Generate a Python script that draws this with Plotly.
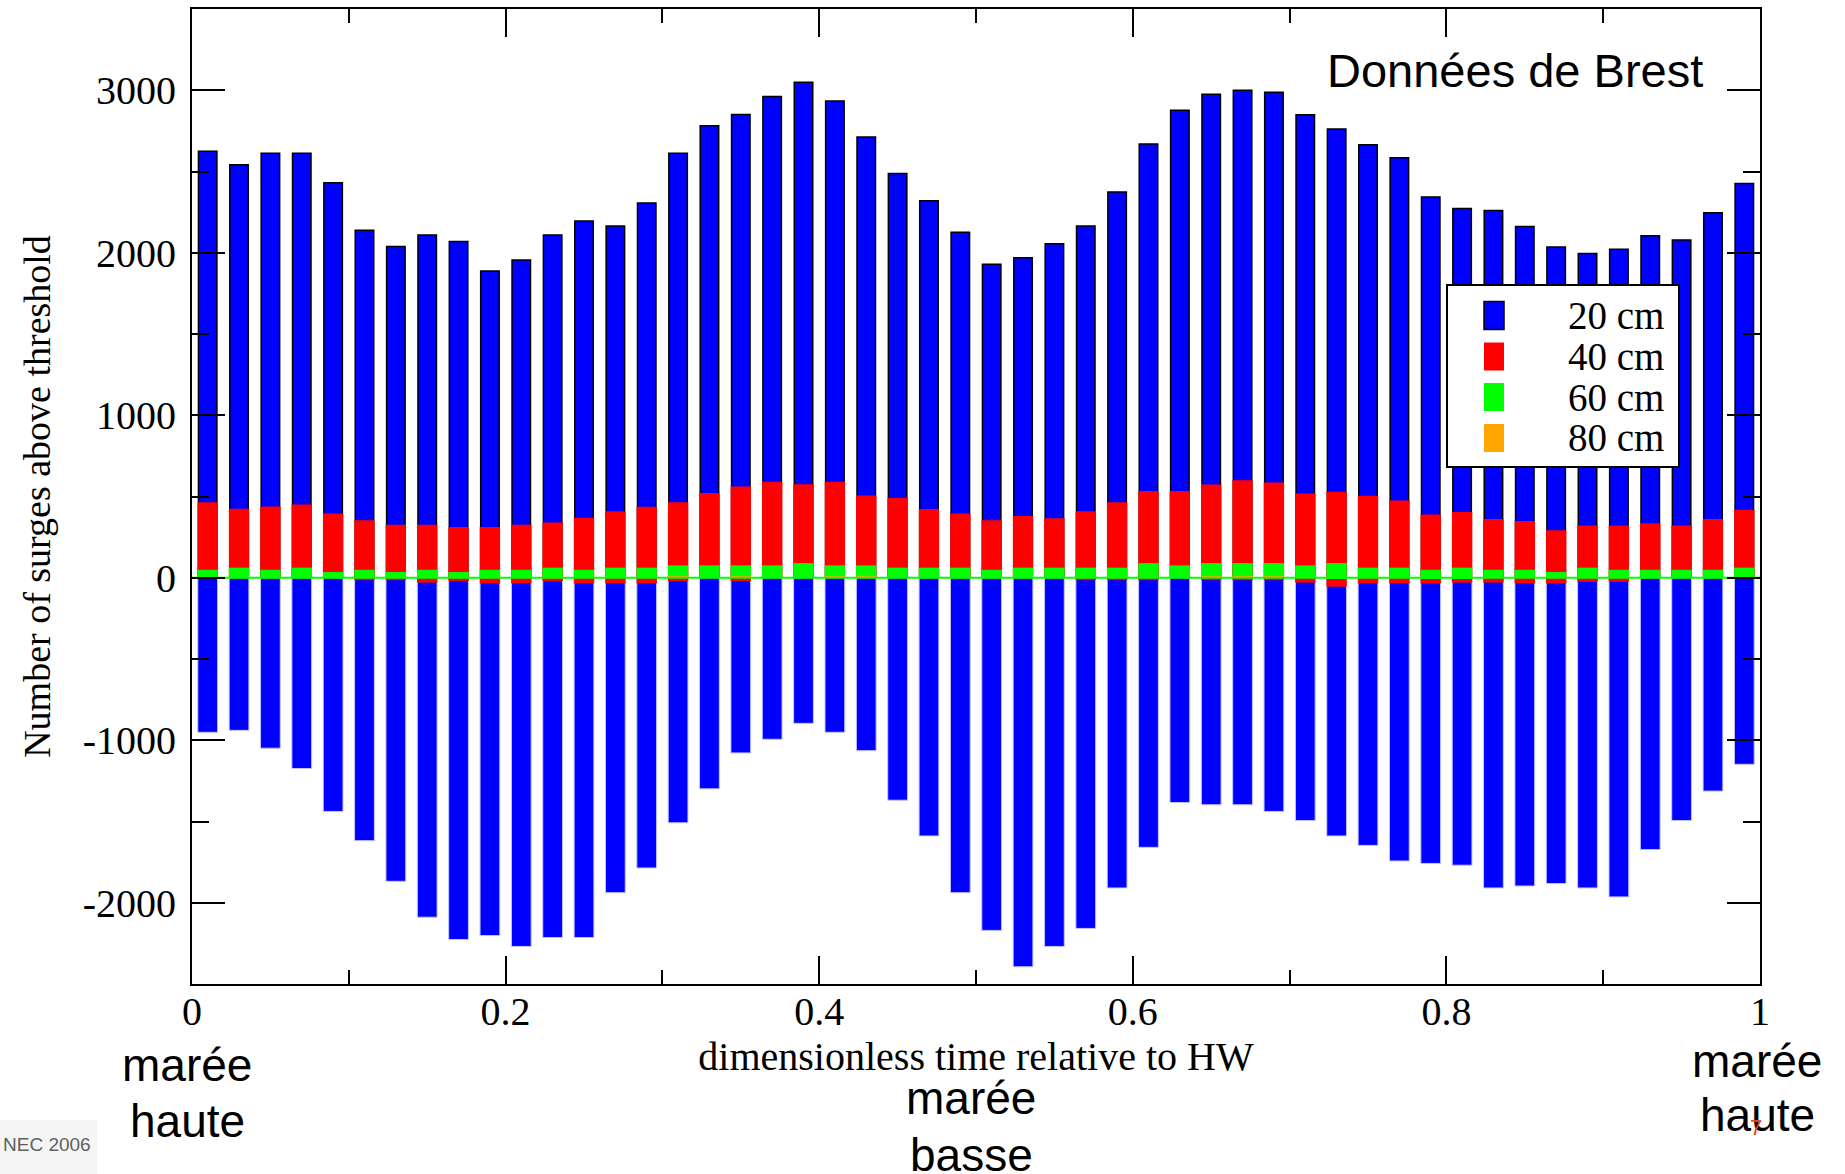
import plotly.graph_objects as go

# Dimensionless time relative to high water (bar centres)
time_hw = [0.01, 0.03, 0.05, 0.07, 0.09, 0.11, 0.13, 0.15, 0.17, 0.19,
           0.21, 0.23, 0.25, 0.27, 0.29, 0.31, 0.33, 0.35, 0.37, 0.39,
           0.41, 0.43, 0.45, 0.47, 0.49, 0.51, 0.53, 0.55, 0.57, 0.59,
           0.61, 0.63, 0.65, 0.67, 0.69, 0.71, 0.73, 0.75, 0.77, 0.79,
           0.81, 0.83, 0.85, 0.87, 0.89, 0.91, 0.93, 0.95, 0.97, 0.99]

# Positive surges above each threshold
surge_20_pos = [2625, 2542, 2613, 2613, 2431, 2138, 2039, 2110, 2069, 1888,
                1956, 2110, 2195, 2164, 2306, 2613, 2781, 2851, 2962, 3050,
                2934, 2712, 2488, 2320, 2126, 1930, 1970, 2055, 2164, 2374,
                2670, 2877, 2975, 3000, 2988, 2849, 2761, 2664, 2584, 2343,
                2272, 2260, 2161, 2035, 1995, 2021, 2104, 2078, 2246, 2426]
surge_40_pos = [465, 425, 439, 451, 395, 354, 326, 326, 312, 312,
                326, 340, 369, 409, 437, 465, 522, 562, 591, 576,
                591, 506, 491, 423, 395, 354, 380, 366, 409, 465,
                534, 534, 574, 600, 586, 518, 530, 504, 475, 390,
                404, 362, 350, 293, 322, 322, 336, 322, 362, 418]
surge_60_pos = [49, 62, 49, 62, 35, 49, 35, 49, 35, 49,
                49, 62, 49, 62, 62, 76, 76, 76, 76, 90,
                76, 76, 62, 62, 62, 49, 62, 62, 62, 62,
                90, 76, 90, 90, 90, 76, 90, 62, 62, 49,
                62, 49, 49, 35, 62, 49, 49, 49, 49, 62]
surge_80_pos = [0, 0, 0, 0, 0, 0, 0, 0, 0, 0,
                0, 0, 0, 0, 0, 12, 0, 12, 0, 0,
                12, 12, 0, 0, 0, 0, 0, 0, 0, 0,
                0, 0, 12, 12, 12, 0, 0, 0, 0, 0,
                0, 0, 0, 0, 0, 0, 0, 0, 0, 0]

# Negative surges (plotted below zero)
surge_20_neg = [-951, -939, -1049, -1174, -1438, -1618, -1868, -2089, -2226, -2202,
                -2269, -2214, -2214, -1938, -1786, -1508, -1299, -1078, -994, -896,
                -951, -1064, -1369, -1589, -1938, -2170, -2394, -2269, -2158, -1909,
                -1659, -1383, -1397, -1397, -1438, -1494, -1589, -1647, -1743, -1758,
                -1769, -1909, -1897, -1882, -1909, -1964, -1673, -1494, -1313, -1148]
surge_40_neg = [0, 0, 0, 0, 0, -15, -15, -30, -20, -35,
                -35, -20, -35, -35, -35, -20, 0, -20, 0, 0,
                0, 0, 0, 0, 0, 0, 0, 0, -15, -15,
                -15, 0, -15, -15, -15, -30, -55, -35, -35, -35,
                -30, -30, -35, -35, -25, -25, 0, 0, 0, 0]
surge_60_neg = [0, 0, 0, 0, 0, 0, 0, 0, 0, 0,
                0, 0, 0, 0, 0, 0, 0, 0, 0, 0,
                0, 0, 0, 0, 0, 0, 0, 0, 0, 0,
                0, 0, 0, 0, 0, 0, -7, 0, 0, -6,
                -6, 0, 0, 0, 0, 0, 0, 0, 0, 0]

series_names = ["20 cm", "40 cm", "60 cm", "80 cm"]
series_colors = ["#0000ff", "#ff0000", "#00ff00", "#ffa500"]

x_tick_values = [0, 0.2, 0.4, 0.6, 0.8, 1]
x_tick_labels = ["0", "0.2", "0.4", "0.6", "0.8", "1"]
y_tick_values = [-2000, -1000, 0, 1000, 2000, 3000]
y_tick_labels = ["-2000", "-1000", "0", "1000", "2000", "3000"]

W, H = 1845, 1174
ML, MR, MT, MB = 192, 85, 9, 190
PW, PH = W - ML - MR, H - MT - MB

SERIF = "Liberation Serif"
SANS = "Liberation Sans"


def px_x(px):
    return (px - ML) / PW


def px_y(py):
    return 1 - (py - MT) / PH


fig = go.Figure()

# Bars are overlaid from the zero baseline: 20 cm at the back, 80 cm in front
fig.add_trace(go.Bar(x=time_hw, y=surge_20_pos, width=0.0118, name=series_names[0],
                     marker=dict(color=series_colors[0], line=dict(color="black", width=1.5)),
                     showlegend=False))
fig.add_trace(go.Bar(x=time_hw, y=surge_20_neg, width=0.0126, name=series_names[0],
                     marker=dict(color=series_colors[0], line=dict(color="#c4c4ff", width=1)),
                     showlegend=False))
fig.add_trace(go.Bar(x=time_hw, y=surge_40_pos, width=0.013, name=series_names[1],
                     marker=dict(color=series_colors[1], line=dict(width=0)), showlegend=False))
fig.add_trace(go.Bar(x=time_hw, y=surge_40_neg, width=0.013, name=series_names[1],
                     marker=dict(color=series_colors[1], line=dict(width=0)), showlegend=False))
fig.add_trace(go.Bar(x=time_hw, y=surge_60_pos, width=0.013, name=series_names[2],
                     marker=dict(color=series_colors[2], line=dict(width=0)), showlegend=False))
fig.add_trace(go.Bar(x=time_hw, y=surge_60_neg, width=0.013, name=series_names[2],
                     marker=dict(color=series_colors[2], line=dict(width=0)), showlegend=False))
fig.add_trace(go.Bar(x=time_hw, y=surge_80_pos, width=0.013, name=series_names[3],
                     marker=dict(color=series_colors[3], line=dict(width=0)), showlegend=False))

# Green baseline at zero
fig.add_trace(go.Scatter(x=[0, 1], y=[0, 0], mode="lines",
                         line=dict(color=series_colors[2], width=2),
                         hoverinfo="skip", showlegend=False))

axis_common = dict(showline=True, linecolor="black", linewidth=2, mirror="ticks",
                   ticks="inside", tickcolor="black", tickwidth=2,
                   showgrid=False, zeroline=False, layer="above traces",
                   tickfont=dict(family=SERIF, size=40, color="black"))

fig.update_layout(
    width=W, height=H,
    margin=dict(l=ML, r=MR, t=MT, b=MB, autoexpand=False),
    paper_bgcolor="white", plot_bgcolor="white",
    barmode="overlay", showlegend=False,
    xaxis=dict(range=[0, 1], tickmode="array", tickvals=x_tick_values, ticktext=x_tick_labels,
               ticklen=28, ticklabelstandoff=-9,
               minor=dict(tick0=0, dtick=0.1, ticklen=14, tickwidth=2, tickcolor="black", ticks="inside"),
               title=dict(text="dimensionless time relative to HW",
                          font=dict(family=SERIF, size=40, color="black"), standoff=6),
               automargin=False, **axis_common),
    yaxis=dict(range=[-2500, 3500], tickmode="array", tickvals=y_tick_values, ticktext=y_tick_labels,
               ticklen=33, ticklabelstandoff=6,
               minor=dict(tick0=0, dtick=500, ticklen=17, tickwidth=2, tickcolor="black", ticks="inside"),
               title=dict(text="Number of surges above threshold",
                          font=dict(family=SERIF, size=38, color="black"), standoff=20),
               automargin=True, **axis_common),
)

shapes = []
annotations = []

# Legend box with swatches
shapes.append(dict(type="rect", xref="paper", yref="paper",
                   x0=px_x(1447), x1=px_x(1679), y0=px_y(467), y1=px_y(285),
                   line=dict(color="black", width=2), fillcolor="white", layer="above"))
legend_rows = [315.5, 356.5, 397, 438]
for name, color, cy in zip(series_names, series_colors, legend_rows):
    shapes.append(dict(type="rect", xref="paper", yref="paper",
                       x0=px_x(1484), x1=px_x(1504), y0=px_y(cy + 14), y1=px_y(cy - 14),
                       line=dict(color="black" if name == series_names[0] else color,
                                 width=1.5 if name == series_names[0] else 0),
                       fillcolor=color, layer="above"))
    annotations.append(dict(text=name, xref="paper", yref="paper", x=px_x(1666), y=px_y(cy),
                            xanchor="right", yanchor="middle", showarrow=False,
                            font=dict(family=SERIF, size=39, color="black")))

# Footer strip at the bottom-left corner
shapes.append(dict(type="rect", xref="paper", yref="paper",
                   x0=px_x(0), x1=px_x(97), y0=px_y(1174), y1=px_y(1120),
                   line=dict(width=0), fillcolor="#f5f5f5", layer="below"))

# Tide-phase captions under the time axis, one line each
tide_captions = [("marée", 187, 1065), ("haute", 187, 1121),
                 ("marée", 971, 1098), ("basse", 971, 1155),
                 ("marée", 1757, 1061), ("haute", 1757, 1115)]
for text, cx, cy in tide_captions:
    annotations.append(dict(text=text, xref="paper", yref="paper", x=px_x(cx), y=px_y(cy),
                            xanchor="center", yanchor="middle", showarrow=False,
                            font=dict(family=SANS, size=46, color="black")))

annotations += [
    dict(text="Données de Brest", xref="paper", yref="paper", x=px_x(1515), y=px_y(70),
         xanchor="center", yanchor="middle", showarrow=False,
         font=dict(family=SANS, size=47, color="black")),
    dict(text="NEC 2006", xref="paper", yref="paper", x=px_x(1), y=px_y(1144),
         xanchor="left", yanchor="middle", showarrow=False,
         font=dict(family=SANS, size=19, color="#606060")),
    dict(text="7", xref="paper", yref="paper", x=px_x(1756), y=px_y(1127),
         xanchor="center", yanchor="middle", showarrow=False,
         font=dict(family=SANS, size=22, color="#e8481c")),
]

fig.update_layout(shapes=shapes, annotations=annotations)

fig.write_html("out.html")
